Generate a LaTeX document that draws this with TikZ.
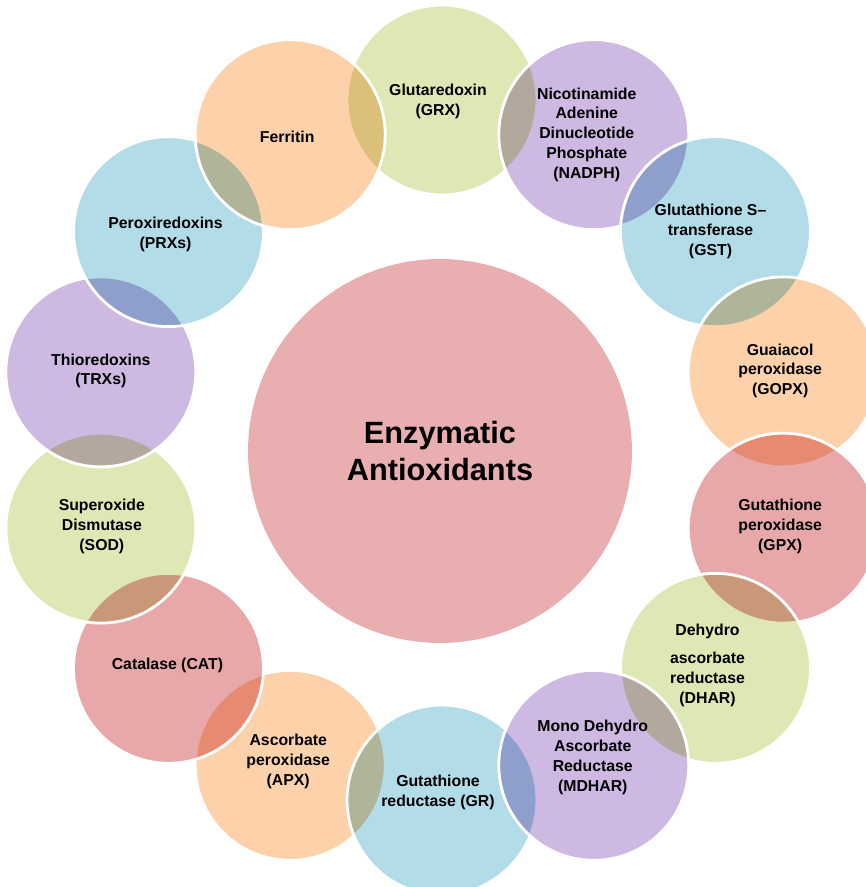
\documentclass[tikz,border=0pt]{standalone}
\usepackage{fontspec}
\setmainfont{Liberation Sans}
\usepackage{tikz}
\usetikzlibrary{calc}
\definecolor{kgruen}{RGB}{222,232,180}
\definecolor{korange}{RGB}{253,210,170}
\definecolor{klila}{RGB}{205,185,225}
\definecolor{kblau}{RGB}{178,220,232}
\definecolor{krot}{RGB}{232,168,170}
\definecolor{kmitte}{RGB}{232,174,176}

\begin{document}
\begin{tikzpicture}[x=0.02cm, y=0.02cm,
	bubble/.style={circle, inner sep=0pt, minimum size=3.8cm, blend mode=multiply,
		postaction={draw=white, line width=1.6pt, blend mode=normal}},
	txt/.style={align=center, inner sep=0pt, font=\bfseries\fontsize{9}{11.3}\selectfont}]
		\useasboundingbox (-442,-437) rectangle (424,450);
		\clip (-442,-437) rectangle (424,450);
		\node[circle, fill=kmitte, minimum size=7.68cm, inner sep=0pt, align=center,
			font=\bfseries\fontsize{17.5}{21.6}\selectfont] (E) at (-2,-1) {Enzymatic\\Antioxidants};
		% ring; APX and GR lie below their neighbours
		\node[bubble, fill=korange] (APX) at (-115.7:350) {};
		\node[bubble, fill=kblau] (GR) at (-90:350) {};
		\node[bubble, fill=kgruen] (GRX) at (90:350) {};
		\node[bubble, fill=klila] (NADPH) at (64.3:350) {};
		\node[bubble, fill=kblau] (GST) at (38.6:350) {};
		\node[bubble, fill=korange] (GOPX) at (12.9:350) {};
		\node[bubble, fill=krot] (GPX) at (-12.9:350) {};
		\node[bubble, fill=kgruen] (DHAR) at (-38.6:350) {};
		\node[bubble, fill=klila] (MDHAR) at (-64.3:350) {};
		\node[bubble, fill=krot] (CAT) at (-141.4:350) {};
		\node[bubble, fill=kgruen] (SOD) at (-167.1:350) {};
		\node[bubble, fill=klila] (TRX) at (167.1:350) {};
		\node[bubble, fill=kblau] (PRX) at (141.4:350) {};
		\node[bubble, fill=korange] (FER) at (115.7:350) {};
		% labels
		\node[txt] (tGRX) at ($(GRX)+(-4,-1)$) {Glutaredoxin\\(GRX)};
		\node[txt] (tNADPH) at ($(NADPH)+(-7,0)$) {Nicotinamide\\Adenine\\Dinucleotide\\Phosphate\\(NADPH)};
		\node[txt] (tGST) at ($(GST)+(-5,0)$) {Glutathione S--\\transferase\\(GST)};
		\node[txt] (tGOPX) at ($(GOPX)+(-3,1)$) {Guaiacol\\peroxidase\\(GOPX)};
		\node[txt] (tGPX) at ($(GPX)+(-3,2)$) {Gutathione\\peroxidase\\(GPX)};
		\node[txt] (tDHAR) at ($(DHAR)+(-8,3)$) {Dehydro\\[0.17cm]ascorbate\\reductase\\(DHAR)};
		\node[txt] (tMDHAR) at ($(MDHAR)+(-1,8)$) {Mono Dehydro\\Ascorbate\\Reductase\\(MDHAR)};
		\node[txt] (tGR) at ($(GR)+(-4,8)$) {Gutathione\\reductase (GR)};
		\node[txt] (tAPX) at ($(APX)+(-2,4)$) {Ascorbate\\peroxidase\\(APX)};
		\node[txt] (tCAT) at ($(CAT)+(-1,3)$) {Catalase (CAT)};
		\node[txt] (tSOD) at ($(SOD)+(1,2)$) {Superoxide\\Dismutase\\(SOD)};
		\node[txt] (tTRX) at ($(TRX)+(0,1)$) {Thioredoxins\\(TRXs)};
		\node[txt] (tPRX) at ($(PRX)+(-3,-3)$) {Peroxiredoxins\\(PRXs)};
		\node[txt] (tFER) at ($(FER)+(-3,-2)$) {Ferritin};
\end{tikzpicture}
\end{document}
